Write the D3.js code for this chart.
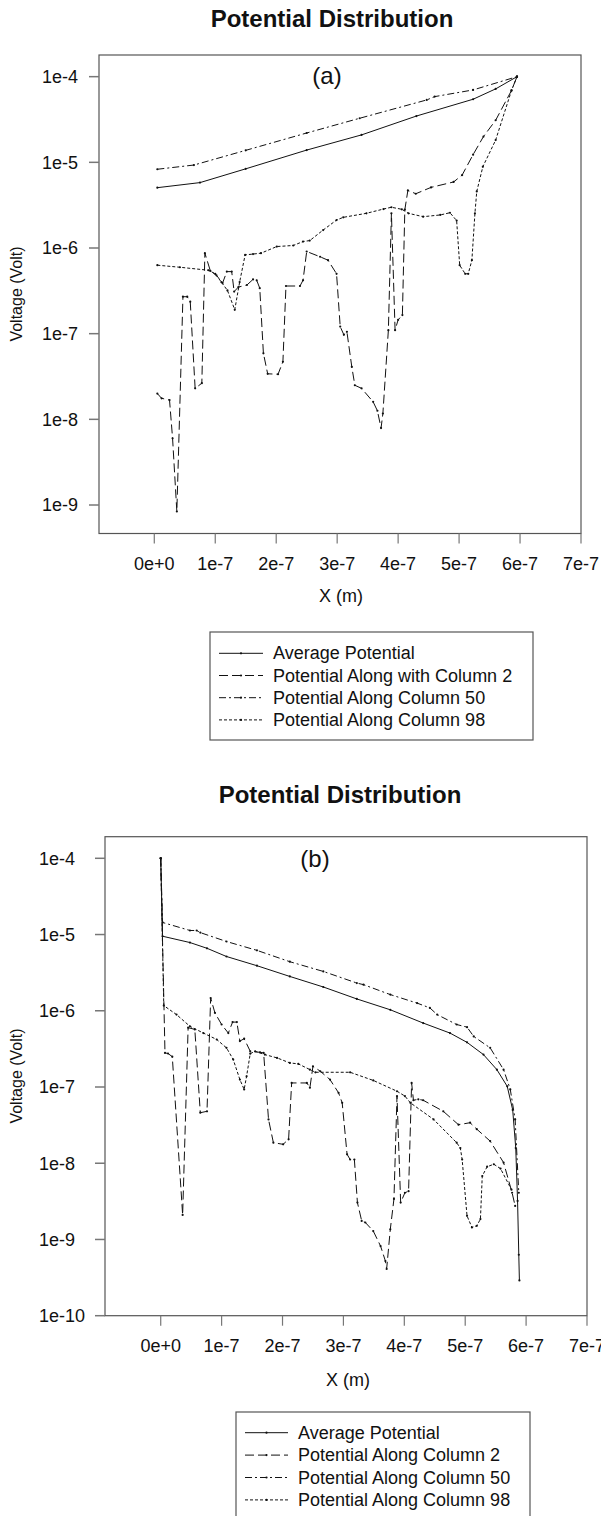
<!DOCTYPE html>
<html>
<head>
<meta charset="utf-8">
<script src="https://cdn.jsdelivr.net/npm/d3@7"></script>
<style>
  body { margin: 0; background: #fff; }
  text { font-family: "Liberation Sans", Arial, sans-serif; fill: #111; }
</style>
</head>
<body>
<svg id="chart" width="601" height="1516"></svg>
<script>
// x values are in units of 1e-7 m, voltages in volt
var xTickVals = [0, 1, 2, 3, 4, 5, 6, 7];
var xTickText = ['0e+0', '1e-7', '2e-7', '3e-7', '4e-7', '5e-7', '6e-7', '7e-7'];
var yTickValsA = [1e-4, 1e-5, 1e-6, 1e-7, 1e-8, 1e-9];
var yTickTextA = ['1e-4', '1e-5', '1e-6', '1e-7', '1e-8', '1e-9'];
var yTickValsB = [1e-4, 1e-5, 1e-6, 1e-7, 1e-8, 1e-9, 1e-10];
var yTickTextB = ['1e-4', '1e-5', '1e-6', '1e-7', '1e-8', '1e-9', '1e-10'];

var legendA = ['Average Potential', 'Potential Along with Column 2', 'Potential Along Column 50', 'Potential Along Column 98'];
var legendB = ['Average Potential', 'Potential Along Column 2', 'Potential Along Column 50', 'Potential Along Column 98'];

// ---- panel (a)
var avgA = [[0.05, 5.06e-6], [0.75, 5.8e-6], [1.5, 8.4e-6], [2.5, 1.39e-5], [3.4, 2.09e-5],
  [4.3, 3.47e-5], [5.23, 5.45e-5], [5.6, 7.2e-5], [5.95, 1.0e-4]];

var col50A = [[0.05, 8.3e-6], [0.65, 9.3e-6], [1.5, 1.38e-5], [2.5, 2.2e-5], [3.37, 3.27e-5],
  [4.47, 5.35e-5], [4.6, 5.85e-5], [5.23, 7.0e-5], [5.95, 1.0e-4]];

var col98A = [[0.05, 6.3e-7], [0.42, 5.96e-7], [0.89, 5.5e-7], [1.0, 5.0e-7], [1.1, 4.0e-7],
  [1.2, 3.2e-7], [1.32, 1.9e-7], [1.4, 4.0e-7], [1.49, 8.3e-7], [1.62, 8.5e-7], [1.75, 8.7e-7],
  [2.01, 1.04e-6], [2.28, 1.07e-6], [2.44, 1.19e-6], [2.55, 1.22e-6], [2.77, 1.62e-6],
  [2.99, 2.12e-6], [3.1, 2.28e-6], [3.48, 2.54e-6], [3.76, 2.85e-6], [3.89, 2.99e-6],
  [4.06, 2.83e-6], [4.17, 2.54e-6], [4.41, 2.32e-6], [4.69, 2.43e-6], [4.85, 2.58e-6],
  [4.96, 2.09e-6], [5.01, 6.3e-7], [5.1, 5.0e-7], [5.15, 5.0e-7], [5.21, 7.2e-7],
  [5.26, 2.54e-6], [5.29, 4.57e-6], [5.39, 8.9e-6], [5.6, 1.82e-5], [5.86, 6.9e-5], [5.95, 1.0e-4]];

var col2A = [[0.05, 2.0e-8], [0.12, 1.76e-8], [0.25, 1.68e-8], [0.3, 6.0e-9], [0.37, 8.4e-10],
  [0.47, 2.7e-7], [0.54, 2.7e-7], [0.59, 2.36e-7], [0.67, 2.3e-8], [0.78, 2.64e-8],
  [0.83, 8.7e-7], [0.92, 5.4e-7], [1.02, 4.8e-7], [1.12, 3.9e-7], [1.19, 5.3e-7],
  [1.27, 5.3e-7], [1.31, 3.1e-7], [1.38, 3.5e-7], [1.52, 3.7e-7], [1.62, 4.3e-7],
  [1.68, 4.2e-7], [1.73, 3.4e-7], [1.79, 5.9e-8], [1.86, 3.4e-8], [2.03, 3.36e-8],
  [2.11, 4.7e-8], [2.16, 3.6e-7], [2.39, 3.6e-7], [2.44, 4.2e-7], [2.5, 9.1e-7],
  [2.72, 7.9e-7], [2.85, 7.2e-7], [2.99, 5.0e-7], [3.05, 1.21e-7], [3.11, 9.7e-8],
  [3.16, 1.05e-7], [3.24, 4.1e-8], [3.29, 2.5e-8], [3.4, 2.3e-8], [3.59, 1.6e-8],
  [3.66, 1.26e-8], [3.72, 7.9e-9], [3.75, 1.17e-8], [3.84, 1.1e-7], [3.89, 2.54e-6],
  [3.95, 1.1e-7], [4.0, 1.45e-7], [4.07, 1.65e-7], [4.11, 2.8e-6], [4.16, 4.7e-6],
  [4.29, 4.3e-6], [4.54, 5.1e-6], [4.91, 5.9e-6], [5.05, 7.1e-6], [5.23, 1.23e-5],
  [5.4, 2.0e-5], [5.6, 3.1e-5], [5.86, 6.9e-5], [5.95, 1.0e-4]];

// ---- panel (b)
var avgB = [[0.0, 1.0e-4], [0.03, 9.5e-6], [0.48, 7.85e-6], [0.76, 6.6e-6], [1.08, 5.15e-6],
  [1.58, 3.9e-6], [2.12, 2.82e-6], [2.67, 2.05e-6], [3.22, 1.43e-6], [3.77, 1.03e-6],
  [4.31, 6.9e-7], [4.75, 5.1e-7], [5.03, 3.85e-7], [5.3, 2.66e-7], [5.52, 1.69e-7],
  [5.69, 1.02e-7], [5.78, 5.0e-8], [5.83, 1.58e-8], [5.86, 3.2e-9], [5.88, 6.3e-10], [5.89, 2.9e-10]];

var col50B = [[0.0, 1.0e-4], [0.03, 1.44e-5], [0.48, 1.13e-5], [0.59, 1.13e-5], [0.65, 1.06e-5],
  [1.08, 8.1e-6], [1.58, 6.2e-6], [2.12, 4.4e-6], [2.67, 3.28e-6], [3.22, 2.31e-6],
  [3.33, 2.2e-6], [3.77, 1.63e-6], [4.21, 1.26e-6], [4.42, 1.09e-6], [4.54, 8.9e-7],
  [4.86, 6.6e-7], [5.03, 6.1e-7], [5.14, 4.6e-7], [5.41, 3.26e-7], [5.63, 1.69e-7],
  [5.74, 9.3e-8], [5.82, 3.76e-8], [5.88, 4.1e-9]];

var col98B = [[0.0, 1.0e-4], [0.05, 1.17e-6], [0.26, 8.9e-7], [0.48, 6.25e-7], [0.7, 5.1e-7],
  [0.92, 4.2e-7], [1.08, 3.26e-7], [1.19, 2.3e-7], [1.3, 1.25e-7], [1.37, 9.3e-8],
  [1.41, 1.38e-7], [1.47, 2.74e-7], [1.55, 2.94e-7], [1.71, 2.66e-7], [1.91, 2.41e-7],
  [2.12, 2.07e-7], [2.26, 2.01e-7], [2.45, 1.69e-7], [2.54, 1.56e-7], [3.11, 1.56e-7],
  [3.49, 1.22e-7], [3.88, 8.8e-8], [4.01, 7.6e-8], [4.1, 6.2e-8], [4.48, 3.76e-8],
  [4.86, 1.86e-8], [4.92, 1.58e-8], [4.95, 1.12e-8], [5.03, 2.04e-9], [5.11, 1.44e-9],
  [5.19, 1.51e-9], [5.25, 1.85e-9], [5.28, 6.8e-9], [5.36, 9.0e-9], [5.47, 9.7e-9],
  [5.58, 8.5e-9], [5.76, 4.5e-9]];

var col2B = [[0.0, 1.0e-4], [0.07, 2.8e-7], [0.12, 2.75e-7], [0.19, 2.5e-7], [0.36, 2.1e-9],
  [0.45, 6.0e-7], [0.56, 5.7e-7], [0.65, 4.6e-8], [0.76, 4.8e-8], [0.82, 1.47e-6],
  [0.89, 9.4e-7], [1.0, 6.6e-7], [1.11, 5.1e-7], [1.18, 7.1e-7], [1.25, 7.1e-7],
  [1.3, 4.0e-7], [1.37, 4.3e-7], [1.47, 2.94e-7], [1.63, 2.85e-7], [1.69, 2.8e-7],
  [1.77, 3.76e-8], [1.85, 1.86e-8], [2.01, 1.77e-8], [2.1, 2.06e-8], [2.15, 1.13e-7],
  [2.4, 1.13e-7], [2.45, 9.8e-8], [2.5, 1.87e-7], [2.62, 1.61e-7], [2.78, 1.25e-7],
  [2.92, 8.4e-8], [2.98, 6.2e-8], [3.06, 1.31e-8], [3.11, 1.12e-8], [3.18, 1.12e-8],
  [3.23, 3.05e-9], [3.3, 1.75e-9], [3.36, 1.67e-9], [3.49, 1.29e-9], [3.61, 8.2e-10],
  [3.69, 5.2e-10], [3.71, 4.1e-10], [3.77, 1.36e-9], [3.83, 3.4e-9], [3.88, 7.6e-8],
  [3.94, 3.05e-9], [4.01, 4.1e-9], [4.07, 4.3e-9], [4.12, 1.13e-7], [4.15, 6.7e-8],
  [4.23, 6.9e-8], [4.31, 6.7e-8], [4.64, 4.8e-8], [4.89, 3.2e-8], [5.08, 3.4e-8],
  [5.19, 2.8e-8], [5.41, 1.95e-8], [5.63, 1.02e-8], [5.77, 4.1e-9], [5.82, 2.75e-9]];

// dash patterns in legend order: average, column 2, column 50, column 98
var dashes = [null, '9,4', '7,3,2,3', '3,2'];

var svg = d3.select('#chart');

var panels = [
  {
    title: 'Potential Distribution', titleX: 332, titleY: 27, tag: '(a)', tagX: 327, tagY: 84,
    left: 99, right: 581, top: 55, bottom: 533.5,
    xDomain: [-0.907, 7], yDomain: [4.65e-10, 1.79e-4],
    yTicks: yTickValsA, yText: yTickTextA, yTextX: 42,
    xTextY: 570, xTitleX: 341, xTitleY: 602, yTitleY: 294,
    series: [avgA, col2A, col50A, col98A], names: legendA,
    leg: {x: 210, y: 632, w: 323, h: 108, row0: 653.3, step: 22.2, s0: 219, s1: 263, tx: 273}
  },
  {
    title: 'Potential Distribution', titleX: 340, titleY: 803, tag: '(b)', tagX: 315, tagY: 867,
    left: 105, right: 587, top: 836.7, bottom: 1315.7,
    xDomain: [-0.915, 7], yDomain: [1e-10, 1.92e-4],
    yTicks: yTickValsB, yText: yTickTextB, yTextX: 39,
    xTextY: 1352, xTitleX: 348, xTitleY: 1386, yTitleY: 1076,
    series: [avgB, col2B, col50B, col98B], names: legendB,
    leg: {x: 236, y: 1412, w: 294, h: 112, row0: 1432.7, step: 22.4, s0: 245, s1: 288, tx: 298}
  }
];

panels.forEach(function(p) {
  var x = d3.scaleLinear().domain(p.xDomain).range([p.left, p.right]);
  var y = d3.scaleLog().domain(p.yDomain).range([p.bottom, p.top]);
  var g = svg.append('g');

  g.append('text')
    .attr('x', p.titleX).attr('y', p.titleY)
    .attr('text-anchor', 'middle')
    .attr('font-size', 24).attr('font-weight', 'bold')
    .text(p.title);

  g.append('rect')
    .attr('x', p.left).attr('y', p.top)
    .attr('width', p.right - p.left).attr('height', p.bottom - p.top)
    .attr('fill', 'none').attr('stroke', '#555').attr('stroke-width', 1.2);

  g.selectAll('.ytick').data(p.yTicks).enter().append('line')
    .attr('x1', p.left - 10).attr('x2', p.left)
    .attr('y1', function(d) { return y(d); })
    .attr('y2', function(d) { return y(d); })
    .attr('stroke', '#777').attr('stroke-width', 1.5);

  g.selectAll('.ylab').data(p.yTicks).enter().append('text')
    .attr('x', p.yTextX)
    .attr('y', function(d) { return y(d); })
    .attr('dy', '0.36em')
    .attr('font-size', 18)
    .text(function(d, i) { return p.yText[i]; });

  g.selectAll('.xtick').data(xTickVals).enter().append('line')
    .attr('x1', function(d) { return x(d); })
    .attr('x2', function(d) { return x(d); })
    .attr('y1', p.bottom).attr('y2', p.bottom + 10)
    .attr('stroke', '#777').attr('stroke-width', 1.2);

  g.selectAll('.xlab').data(xTickVals).enter().append('text')
    .attr('x', function(d) { return x(d); })
    .attr('y', p.xTextY)
    .attr('text-anchor', 'middle')
    .attr('font-size', 18)
    .text(function(d, i) { return xTickText[i]; });

  g.append('text')
    .attr('x', p.xTitleX).attr('y', p.xTitleY)
    .attr('text-anchor', 'middle').attr('font-size', 18)
    .text('X (m)');

  g.append('text')
    .attr('transform', 'translate(22,' + p.yTitleY + ') rotate(-90)')
    .attr('text-anchor', 'middle').attr('font-size', 16)
    .text('Voltage (Volt)');

  g.append('text')
    .attr('x', p.tagX).attr('y', p.tagY)
    .attr('text-anchor', 'middle').attr('font-size', 24)
    .text(p.tag);

  var line = d3.line()
    .x(function(d) { return x(d[0]); })
    .y(function(d) { return y(d[1]); });

  p.series.forEach(function(s, i) {
    g.append('path')
      .datum(s)
      .attr('d', line)
      .attr('fill', 'none')
      .attr('stroke', '#111')
      .attr('stroke-width', 1)
      .attr('stroke-dasharray', dashes[i]);
    g.selectAll('.dot' + i).data(s).enter().append('circle')
      .attr('cx', function(d) { return x(d[0]); })
      .attr('cy', function(d) { return y(d[1]); })
      .attr('r', 1.1)
      .attr('fill', '#111');
  });

  var L = p.leg;
  g.append('rect')
    .attr('x', L.x).attr('y', L.y).attr('width', L.w).attr('height', L.h)
    .attr('fill', 'none').attr('stroke', '#555').attr('stroke-width', 1.2);

  p.names.forEach(function(name, i) {
    var cy = L.row0 + i * L.step;
    g.append('line')
      .attr('x1', L.s0).attr('x2', L.s1).attr('y1', cy).attr('y2', cy)
      .attr('stroke', '#111').attr('stroke-width', 1)
      .attr('stroke-dasharray', dashes[i]);
    g.append('circle')
      .attr('cx', (L.s0 + L.s1) / 2).attr('cy', cy).attr('r', 1.1)
      .attr('fill', '#111');
    g.append('text')
      .attr('x', L.tx).attr('y', cy + 6)
      .attr('font-size', 18)
      .text(name);
  });
});
</script>
</body>
</html>
